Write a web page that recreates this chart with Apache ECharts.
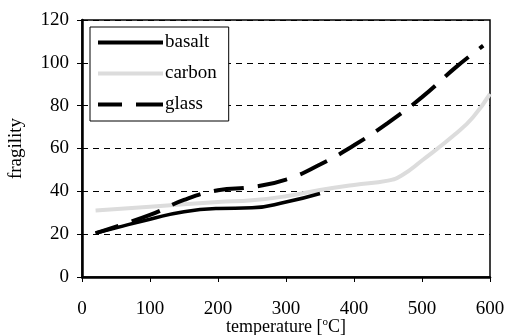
<!DOCTYPE html>
<html>
<head>
<meta charset="utf-8">
<script src="https://cdn.jsdelivr.net/npm/echarts@6/dist/echarts.min.js"></script>
<style>html,body{margin:0;padding:0;background:#fff}#c{width:507px;height:335px}</style>
</head>
<body>
<div id="c"></div>
<script>
var seriesNames = ['basalt', 'carbon', 'glass'];
var basaltT = [20, 50, 100, 150, 200, 250, 300, 350];
var basaltF = [20.5, 23, 27, 30.5, 32, 32.3, 35, 39];
var carbonT = [20, 100, 200, 250, 300, 350, 400, 450, 470, 500, 550, 575, 600];
var carbonF = [31, 32.8, 35, 35.8, 37.7, 40.6, 43, 45, 47.4, 54.4, 67, 74.6, 85.5];
var glassT = [20, 100, 150, 200, 250, 300, 350, 400, 450, 500, 550, 590];
var glassF = [20.5, 29, 36, 40.5, 42, 45.5, 52.5, 61.5, 72, 84, 98, 108];
var xTicks = [0, 100, 200, 300, 400, 500, 600];
var yTicks = [0, 20, 40, 60, 80, 100, 120];

function pairs(t, f) { return t.map(function (v, i) { return [v, f[i]]; }); }

var font = 'Liberation Serif';
var chart = echarts.init(document.getElementById('c'), null, {renderer: 'canvas'});
chart.setOption({
  animation: false,
  backgroundColor: '#fff',
  grid: {left: 82, right: 17, top: 20, bottom: 58, containLabel: false, outerBoundsMode: 'none',
         show: true, borderColor: '#000', borderWidth: 1.5, backgroundColor: 'transparent'},
  legend: {
    data: seriesNames,
    orient: 'vertical',
    left: 90, top: 27,
    padding: [6, 12, 7, 6],
    itemWidth: 65, itemHeight: 17, itemGap: 12,
    borderColor: '#000', borderWidth: 1,
    backgroundColor: '#fff',
    itemStyle: {opacity: 0},
    lineStyle: {width: 4},
    textStyle: {fontFamily: font, fontSize: 19, color: '#000', padding: [0, 0, 0, -3]}
  },
  xAxis: {
    type: 'value', min: xTicks[0], max: xTicks[xTicks.length - 1], interval: 100,
    name: 'temperature [{sup|o}C]', nameLocation: 'middle', nameGap: 40, nameMoveOverlap: false,
    nameTextStyle: {fontFamily: font, fontSize: 18, color: '#000',
      rich: {sup: {fontFamily: font, fontSize: 11, color: '#000', padding: [0, 0, 9, 0]}}},
    axisLine: {show: true, onZero: false, lineStyle: {color: '#000', width: 2.5}},
    axisTick: {show: true, inside: false, length: 5, lineStyle: {color: '#000', width: 1}},
    axisLabel: {fontFamily: font, fontSize: 19, color: '#000', margin: 23},
    splitLine: {show: false}
  },
  yAxis: {
    type: 'value', min: yTicks[0], max: yTicks[yTicks.length - 1], interval: 20,
    name: 'fragility', nameLocation: 'middle', nameGap: 56, nameMoveOverlap: false,
    nameTextStyle: {fontFamily: font, fontSize: 19, color: '#000'},
    axisLine: {show: true, onZero: false, lineStyle: {color: '#000', width: 2.5}},
    axisTick: {show: true, inside: false, length: 5, lineStyle: {color: '#000', width: 1}},
    axisLabel: {fontFamily: font, fontSize: 19, color: '#000', margin: 13},
    splitLine: {show: true, lineStyle: {color: '#000', width: 1, type: [6, 5]}}
  },
  series: [
    {name: seriesNames[0], type: 'line', smooth: true, showSymbol: false, symbol: 'none', z: 3,
     data: pairs(basaltT, basaltF), lineStyle: {color: '#000', width: 3.5}, itemStyle: {color: '#000'}},
    {name: seriesNames[1], type: 'line', smooth: true, showSymbol: false, symbol: 'none', z: 2,
     data: pairs(carbonT, carbonF), lineStyle: {color: '#dcdcdc', width: 4}, itemStyle: {color: '#dcdcdc'}},
    {name: seriesNames[2], type: 'line', smooth: true, showSymbol: false, symbol: 'none', z: 4,
     data: pairs(glassT, glassF), lineStyle: {color: '#000', width: 4, type: [30, 14], dashOffset: 6}, itemStyle: {color: '#000'}}
  ]
});
</script>
</body>
</html>
